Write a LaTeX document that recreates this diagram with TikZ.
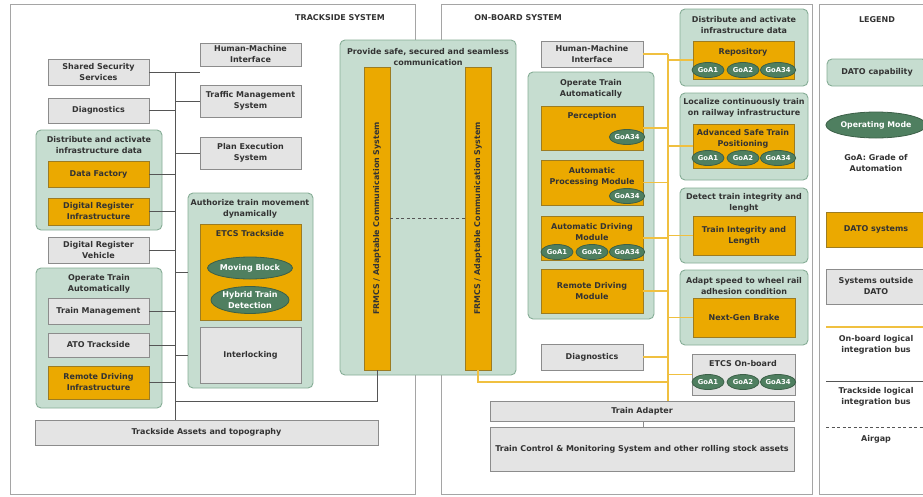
\documentclass[tikz,border=0pt]{standalone}
\usepackage{fontspec}
\setmainfont{DejaVu Sans}
\usetikzlibrary{shapes.geometric}
\definecolor{grfill}{HTML}{C6DDD0}
\definecolor{grdraw}{HTML}{86AD96}
\definecolor{orfill}{HTML}{EBA900}
\definecolor{ordraw}{HTML}{9C7C22}
\definecolor{gyfill}{HTML}{E4E4E4}
\definecolor{gydraw}{HTML}{8C8C8C}
\definecolor{elfill}{HTML}{4F7F60}
\definecolor{eldraw}{HTML}{3C6048}
\definecolor{ybus}{HTML}{F0C040}
\definecolor{tbus}{HTML}{555555}
\definecolor{frm}{HTML}{A5A5A5}
\definecolor{txt}{HTML}{333333}
\newcommand\myfont{\fontsize{8}{11}\selectfont\bfseries}
\newcommand\mybox[7]{\node[#1, minimum width={#5-#3}, minimum height={#6-#4}] (#2) at ({(#3+#5)/2},{(#4+#6)/2}) {#7};}
\begin{document}
\begin{tikzpicture}[x=1pt,y=-1pt,
  basebox/.style={rectangle, inner sep=1pt, align=center, font=\myfont, text=txt, line width=0.9pt},
  gy/.style={basebox, draw=gydraw, fill=gyfill},
  ob/.style={basebox, draw=ordraw, fill=orfill},
  grp/.style={basebox, rounded corners=5pt, draw=grdraw, fill=grfill},
  frame/.style={rectangle, draw=frm, line width=0.9pt, inner sep=0pt},
  ttl/.style={align=center, font=\myfont, text=txt, inner sep=0pt},
  goa/.style={ellipse, draw=eldraw, fill=elfill, text=white, font=\fontsize{6.8}{7}\selectfont\bfseries, inner sep=0pt, minimum width=32pt, minimum height=15pt, line width=0.8pt},
  opm/.style={goa, align=center, font=\fontsize{8}{11}\selectfont\bfseries, minimum width=76pt, minimum height=22pt},
  tbusl/.style={draw=tbus, line width=0.9pt},
  ybusl/.style={draw=ybus, line width=1.2pt},
  gyl/.style={draw=gydraw, line width=0.9pt},
  airgap/.style={draw=tbus, line width=0.9pt, dash pattern=on 3pt off 2.5pt},
  vlab/.style={rotate=90, font=\fontsize{7.9}{8}\selectfont\bfseries, text=txt, inner sep=0pt}
]
\useasboundingbox (0,0) rectangle (923,496);
\fill[white] (0,0) rectangle (923,496);
% frames
\mybox{frame}{fts}{10}{4}{415}{494}{}
\mybox{frame}{fob}{441}{4}{812}{494}{}
\mybox{frame}{flg}{819}{4}{935}{494}{}
\node[ttl] (tts) at (340,18) {TRACKSIDE SYSTEM};
\node[ttl] (tob) at (518,18) {ON-BOARD SYSTEM};
\node[ttl] (tlg) at (877,20) {LEGEND};
% ---------------- trackside
\mybox{grp}{grpDist}{36}{130}{162}{230}{}
\node[ttl] (tDist) at (99,145) {Distribute and activate\\infrastructure data};
\mybox{grp}{grpOpT}{36}{268}{162}{408}{}
\node[ttl] (tOpT) at (99,284) {Operate Train\\Automatically};
\mybox{grp}{grpAuth}{188}{193}{313}{388}{}
\node[ttl] (tAuth) at (250,209) {Authorize train movement\\dynamically};
\mybox{gy}{ssserv}{48}{59}{149}{85}{Shared Security\\Services}
\mybox{gy}{diagT}{48}{98}{149}{123}{Diagnostics}
\mybox{ob}{dataf}{48}{161}{149}{187}{Data Factory}
\mybox{ob}{dri}{48}{198}{149}{225}{Digital Register\\Infrastructure}
\mybox{gy}{drv}{48}{237}{149}{263}{Digital Register\\Vehicle}
\mybox{gy}{trm}{48}{298}{149}{324}{Train Management}
\mybox{gy}{atot}{48}{333}{149}{357}{ATO Trackside}
\mybox{ob}{rdi}{48}{366}{149}{399}{Remote Driving\\Infrastructure}
\mybox{gy}{tsa}{35}{420}{378}{445}{Trackside Assets and topography}
\mybox{gy}{hmiT}{200}{43}{301}{66}{Human-Machine\\Interface}
\mybox{gy}{tms}{200}{85}{301}{117}{Traffic Management\\System}
\mybox{gy}{pes}{200}{137}{301}{169}{Plan Execution\\System}
\mybox{ob}{etcsT}{200}{224}{301}{320}{}
\node[ttl] (tEtcsT) at (250,234) {ETCS Trackside};
\node[opm] (mb) at (250,268) {Moving Block};
\node[opm, minimum height=27pt] (htd) at (250,300) {Hybrid Train\\Detection};
\mybox{gy}{intl}{200}{327}{301}{383}{Interlocking}
% trackside bus
\coordinate (tb1) at (175,72);
\coordinate (tj) at (175,401);
\draw[tbusl] (tb1) -- (tb1 |- tsa.north);
\draw[tbusl] (ssserv.east) -- (ssserv.east -| hmiT.west);
\draw[tbusl] (diagT.east) -- (diagT.east -| tb1);
\draw[tbusl] (tms.west) -- (tms.west -| tb1);
\draw[tbusl] (pes.west) -- (pes.west -| tb1);
\draw[tbusl] (dataf.east) -- (dataf.east -| tb1);
\draw[tbusl] (dri.east) -- (dri.east -| tb1);
\draw[tbusl] (drv.east) -- (drv.east -| tb1);
\draw[tbusl] (trm.east) -- (trm.east -| tb1);
\draw[tbusl] (atot.east) -- (atot.east -| tb1);
\draw[tbusl] (rdi.east) -- (rdi.east -| tb1);
\draw[tbusl] ([yshift=18.5pt]grpAuth.west) -- ([yshift=18.5pt]grpAuth.west -| tb1);
\draw[tbusl] (intl.west -| tb1) -- (intl.west -| grpAuth.west);
% ---------------- communication
\mybox{grp}{grpComm}{340}{40}{516}{375}{}
\node[ttl] (tComm) at (428,57) {Provide safe, secured and seamless\\communication};
\mybox{ob}{frT}{364}{67}{390}{370}{}
\mybox{ob}{frO}{465}{67}{491}{370}{}
\node[vlab] (lfrT) at (frT.center) {FRMCS / Adaptable Communication System};
\node[vlab] (lfrO) at (frO.center) {FRMCS / Adaptable Communication System};
\draw[airgap] (frT.east) -- (frO.west);
\draw[tbusl] (tj) -| (frT.south);
% ---------------- on-board
\mybox{gy}{hmiO}{541}{41}{643}{67}{Human-Machine\\Interface}
\mybox{grp}{grpOpO}{528}{72}{654}{319}{}
\node[ttl] (tOpO) at (591,89) {Operate Train\\Automatically};
\mybox{ob}{perc}{541}{106}{643}{150}{}
\node[ttl] (tperc) at (592,116) {Perception};
\node[goa] (gp) at (627,137) {GoA34};
\mybox{ob}{apm}{541}{160}{643}{205}{}
\node[ttl] (tapm) at (592,177) {Automatic\\Processing Module};
\node[goa] (ga) at (627,196) {GoA34};
\mybox{ob}{adm}{541}{216}{643}{260}{}
\node[ttl] (tadm) at (592,232) {Automatic Driving\\Module};
\node[goa] (gd1) at (557,252) {GoA1};
\node[goa] (gd2) at (592,252) {GoA2};
\node[goa] (gd3) at (627,252) {GoA34};
\mybox{ob}{rdm}{541}{269}{643}{313}{Remote Driving\\Module}
\mybox{gy}{diagO}{541}{344}{643}{370}{Diagnostics}
\mybox{gy}{tad}{490}{401}{794}{421}{Train Adapter}
\mybox{gy}{tcms}{490}{427}{794}{471}{Train Control \& Monitoring System and other rolling stock assets}
\mybox{grp}{grpDistO}{680}{9}{808}{86}{}
\node[ttl] (tDistO) at (744,25) {Distribute and activate\\infrastructure data};
\mybox{ob}{repo}{693}{41}{794}{79}{}
\node[ttl] (trepo) at (743,52) {Repository};
\node[goa] (gr1) at (708,70) {GoA1};
\node[goa] (gr2) at (743,70) {GoA2};
\node[goa] (gr3) at (778,70) {GoA34};
\mybox{grp}{grpLoc}{680}{93}{808}{180}{}
\node[ttl] (tLoc) at (744,108) {Localize continuously train\\on railway infrastructure};
\mybox{ob}{astp}{693}{124}{794}{168}{}
\node[ttl] (tastp) at (743,139) {Advanced Safe Train\\Positioning};
\node[goa] (gs1) at (708,158) {GoA1};
\node[goa] (gs2) at (743,158) {GoA2};
\node[goa] (gs3) at (778,158) {GoA34};
\mybox{grp}{grpDet}{680}{188}{808}{263}{}
\node[ttl] (tDet) at (744,203) {Detect train integrity and\\lenght};
\mybox{ob}{til}{693}{216}{795}{255}{Train Integrity and\\Length}
\mybox{grp}{grpAd}{680}{270}{808}{345}{}
\node[ttl] (tAd) at (744,286) {Adapt speed to wheel rail\\adhesion condition};
\mybox{ob}{ngb}{693}{298}{795}{337}{Next-Gen Brake}
\mybox{gy}{etcsO}{692}{354}{795}{395}{}
\node[ttl] (tetcsO) at (743,364) {ETCS On-board};
\node[goa] (ge1) at (708,382) {GoA1};
\node[goa] (ge2) at (743,382) {GoA2};
\node[goa] (ge3) at (778,382) {GoA34};
% on-board bus
\coordinate (yb1) at (668,54);
\coordinate (yj) at (668,382);
\draw[ybusl] (yb1) -- (yb1 |- tad.north);
\draw[ybusl] (hmiO.east) -- (hmiO.east -| yb1);
\draw[ybusl] (repo.west) -- (repo.west -| yb1);
\draw[ybusl] (perc.east) -- (perc.east -| yb1);
\draw[ybusl] (astp.west) -- (astp.west -| yb1);
\draw[ybusl] (apm.east) -- (apm.east -| yb1);
\draw[ybusl] (adm.east) -- (adm.east -| yb1);
\draw[ybusl] (til.west) -- (til.west -| yb1);
\draw[ybusl] (rdm.east) -- (rdm.east -| yb1);
\draw[ybusl] (ngb.west) -- (ngb.west -| yb1);
\draw[ybusl] (diagO.east) -- (diagO.east -| yb1);
\draw[ybusl] (etcsO.west) -- (etcsO.west -| yb1);
\draw[ybusl] (frO.south) |- (yj);
\draw[gyl] (tad.south -| diagO.east) -- (tcms.north -| diagO.east);
% ---------------- legend
\mybox{grp}{lg1}{827}{59}{927}{86}{DATO capability}
\node[opm, font=\fontsize{7.8}{9}\selectfont\bfseries, minimum width=76pt, minimum height=26pt] (lg2) at (876,125) {Operating Mode};
\node[ttl] (lg3) at (876,163) {GoA: Grade of\\Automation};
\mybox{ob}{lg4}{826}{212}{926}{247}{DATO systems}
\mybox{gy}{lg5}{826}{269}{926}{304}{Systems outside\\DATO}
\coordinate (la1) at (826,327); \coordinate (la2) at (935,327);
\draw[ybusl] (la1) -- (la2);
\node[ttl] (lg6) at (876,345) {On-board logical\\integration bus};
\coordinate (lb1) at (826,381); \coordinate (lb2) at (935,381);
\draw[tbusl] (lb1) -- (lb2);
\node[ttl] (lg7) at (876,397) {Trackside logical\\integration bus};
\coordinate (lc1) at (826,427); \coordinate (lc2) at (935,427);
\draw[airgap] (lc1) -- (lc2);
\node[ttl] (lg8) at (876,439) {Airgap};
\end{tikzpicture}
\end{document}
